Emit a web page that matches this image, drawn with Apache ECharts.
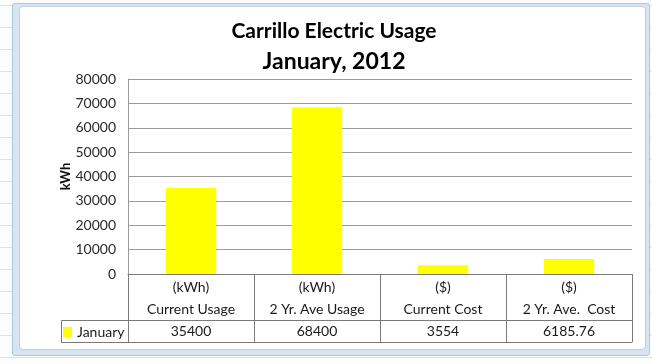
<!DOCTYPE html>
<html>
<head>
<meta charset="utf-8">
<script src="https://cdn.jsdelivr.net/npm/echarts@6/dist/echarts.min.js"></script>
<style>
  html, body { margin: 0; padding: 0; }
  body {
    width: 652px; height: 364px; position: relative; overflow: hidden;
    background-color: #fbfcfd;
  }
  .sheet-rows {
    position: absolute; left: 0; top: 5px; width: 652px; height: 359px;
    background-image: repeating-linear-gradient(to bottom, #dde2e6 0, #dde2e6 1px, transparent 1px, transparent 22px);
  }
  .selection {
    position: absolute; left: 12px; top: 3px; width: 636px; height: 351px;
    background: #d6e5f1; border: 1px solid #b3c9db; border-radius: 3px;
  }
  .chart-area {
    position: absolute; left: 19px; top: 6px; width: 625px; height: 342px;
    background: #ffffff; border: 1px solid #c3cfd8; border-radius: 4px;
  }
  #chart { position: absolute; left: 0; top: 0; width: 652px; height: 364px; }
</style>
</head>
<body>
<div class="sheet-rows"></div>
<div class="selection"></div>
<div class="chart-area"></div>
<div id="chart"></div>
<script>
// Monthly electric usage and cost summary
const categories = ['Current Usage', '2 Yr. Ave Usage', 'Current Cost', '2 Yr. Ave.  Cost'];
const units = ['(kWh)', '(kWh)', '($)', '($)'];
const seriesName = 'January';
const januaryValues = [35400, 68400, 3554, 6185.76];
const yMin = 0, yMax = 80000, yStep = 10000;

const FONT = 'Lato, "Open Sans", sans-serif';
const tableLine = '#7a7a7a';

const chart = echarts.init(document.getElementById('chart'), null, { renderer: 'canvas' });

chart.setOption({
  backgroundColor: 'transparent',
  animation: false,
  textStyle: { fontFamily: FONT },
  graphic: [
    { type: 'text', x: 334, y: 31, style: { text: 'Carrillo Electric Usage', textAlign: 'center', textVerticalAlign: 'middle', font: 'bold 21px ' + FONT, fill: '#000' } },
    { type: 'text', x: 334, y: 62, style: { text: 'January, 2012', textAlign: 'center', textVerticalAlign: 'middle', font: 'bold 23px ' + FONT, fill: '#000' } },
    // legend cell of the data table
    { type: 'rect', shape: { x: 61.5, y: 320.5, width: 67, height: 22 }, style: { fill: 'none', stroke: tableLine, lineWidth: 1 } }
  ],
  legend: {
    left: 63, top: 325, padding: 0, itemWidth: 9, itemHeight: 10, itemGap: 0,
    icon: 'rect', selectedMode: false,
    textStyle: { fontSize: 14, color: '#1a1a1a', fontFamily: FONT, padding: [0, 0, 0, 0] },
    data: [seriesName]
  },
  grid: { left: 128, right: 20, top: 79, bottom: 90, containLabel: false },
  yAxis: {
    type: 'value', min: yMin, max: yMax, interval: yStep,
    name: 'kWh', nameLocation: 'middle', nameGap: 62, nameRotate: 90, nameMoveOverlap: false,
    nameTextStyle: { fontSize: 13, fontWeight: 'bold', color: '#111', fontFamily: FONT, verticalAlign: 'middle' },
    axisLine: { show: true, lineStyle: { color: '#9a9a9a' } },
    axisTick: { show: false },
    axisLabel: { fontSize: 14, color: '#2a2a2a', margin: 12, fontFamily: FONT, formatter: v => String(v) },
    splitLine: { lineStyle: { color: '#9a9a9a' } }
  },
  xAxis: [
    {
      type: 'category', data: categories, position: 'bottom',
      axisLine: { lineStyle: { color: tableLine } },
      axisTick: { show: true, interval: 0, length: 68, lineStyle: { color: tableLine } },
      axisLabel: {
        interval: 0, margin: 2, fontSize: 14, lineHeight: 22, color: '#1a1a1a', fontFamily: FONT,
        formatter: (v, i) => units[i] + '\n' + v
      }
    },
    {
      type: 'category', data: categories, position: 'bottom', offset: 46,
      axisLine: { lineStyle: { color: tableLine } },
      axisTick: { show: false },
      axisLabel: {
        interval: 0, margin: 0, fontSize: 14, lineHeight: 22, color: '#1a1a1a', fontFamily: FONT,
        formatter: (v, i) => String(januaryValues[i])
      }
    },
    {
      type: 'category', data: categories, position: 'bottom', offset: 68,
      axisLine: { lineStyle: { color: tableLine } },
      axisTick: { show: false },
      axisLabel: { show: false }
    }
  ],
  series: [{
    name: seriesName, type: 'bar', xAxisIndex: 0, data: januaryValues,
    barWidth: '40%', itemStyle: { color: '#ffff00' }
  }]
});
</script>
</body>
</html>
